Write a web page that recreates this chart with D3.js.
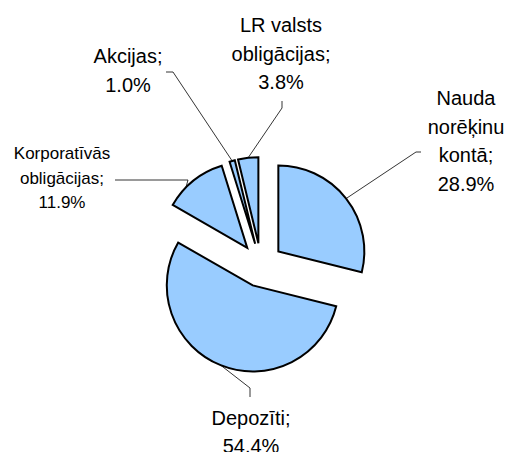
<!DOCTYPE html>
<html>
<head>
<meta charset="utf-8">
<script src="https://cdn.jsdelivr.net/npm/d3@7"></script>
<style>
  html, body { margin: 0; padding: 0; background: #fff; }
  svg { display: block; }
</style>
</head>
<body>
<div id="chart"></div>
<script>
// categories and values (clockwise from 12 o'clock)
const categories = ["Nauda\nnorēķinu\nkontā", "Depozīti", "Korporatīvās\nobligācijas", "Akcijas", "LR valsts\nobligācijas"];
const values = [28.9, 54.4, 11.9, 1.0, 3.8];

// label placement (layout only): text anchor point, line spacing, font size,
// leader elbow + end near the text, and where on the slice arc the leader lands
const labelX = [466, 251, 62, 128, 281];
const labelY = [105, 425, 159, 63, 32];
const labelLead = [28.7, 28, 24.5, 29, 28.5];
const labelSize = [20, 20, 17, 20, 20];
const leaderEnd = [[421, 152], [250, 397], [115, 180], [166, 72], [282, 101]];
const leaderElbow = [[416, 152], [250, 388], [188, 180], [173, 72], [282, 108]];
const leaderAt = [0.5, 0.5, 0.34, 0.5, 0.5];

const W = 506, H = 452;
const cx = 261, cy = 265, R = 86, explode = 22;

const svg = d3.select("#chart").append("svg")
  .attr("width", W).attr("height", H)
  .style("font-family", "'Liberation Sans', Arial, sans-serif");

const pie = d3.pie().sort(null).value(d => d)(values);
const arc = d3.arc().innerRadius(0).outerRadius(R);

const g = svg.append("g").attr("transform", `translate(${cx},${cy})`);

/* exploded slices */
pie.forEach((p, i) => {
  const mid = (p.startAngle + p.endAngle) / 2;
  const dx = explode * Math.sin(mid), dy = -explode * Math.cos(mid);
  g.append("path")
    .attr("transform", `translate(${dx},${dy})`)
    .attr("d", arc(p))
    .attr("fill", "#99ccff")
    .attr("stroke", "#000")
    .attr("stroke-width", 2)
    .attr("stroke-linejoin", "miter");
});

/* leader lines */
pie.forEach((p, i) => {
  const mid = (p.startAngle + p.endAngle) / 2;
  const a = p.startAngle + (p.endAngle - p.startAngle) * leaderAt[i];
  const ox = cx + explode * Math.sin(mid), oy = cy - explode * Math.cos(mid);
  const px = ox + R * Math.sin(a), py = oy - R * Math.cos(a);
  svg.append("polyline")
    .attr("points", [leaderEnd[i], leaderElbow[i], [px, py]].map(q => q.join(",")).join(" "))
    .attr("fill", "none").attr("stroke", "#000").attr("stroke-width", 0.8);
});

/* labels */
categories.forEach((c, i) => {
  const lines = c.split("\n");
  lines[lines.length - 1] += ";";
  lines.push(values[i].toFixed(1) + "%");
  const t = svg.append("text")
    .attr("x", labelX[i]).attr("y", labelY[i])
    .attr("text-anchor", "middle")
    .style("font-size", labelSize[i] + "px")
    .style("fill", "#000");
  lines.forEach((l, j) => {
    t.append("tspan").attr("x", labelX[i]).attr("y", labelY[i] + j * labelLead[i]).text(l);
  });
});
</script>
</body>
</html>
